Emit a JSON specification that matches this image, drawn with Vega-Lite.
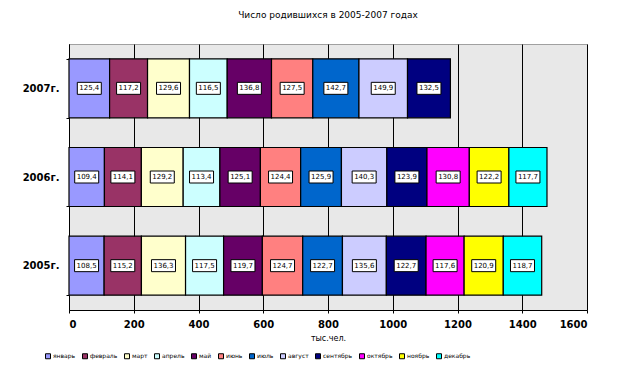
{
  "$schema": "https://vega.github.io/schema/vega-lite/v6.json",
  "width": 518,
  "height": 266,
  "autosize": {"type": "none"},
  "padding": {"left": 69, "top": 44, "right": 35, "bottom": 67},
  "background": "white",
  "title": {"text": "Число родившихся в 2005-2007 годах", "font": "DejaVu Sans", "fontSize": 9, "fontWeight": "normal", "color": "black", "offset": 19, "anchor": "middle"},
  "config": {
    "view": {"fill": "#e8e8e8", "stroke": "#a0a0a0", "strokeWidth": 1},
    "axis": {"labelFont": "DejaVu Sans", "titleFont": "DejaVu Sans", "labelColor": "black", "titleColor": "black", "domainColor": "black", "tickColor": "black"}
  },
  "data": {"values": [
    {"year": "2005г.", "month": "январь", "m": 1, "v": 108.5},
    {"year": "2005г.", "month": "февраль", "m": 2, "v": 115.2},
    {"year": "2005г.", "month": "март", "m": 3, "v": 136.3},
    {"year": "2005г.", "month": "апрель", "m": 4, "v": 117.5},
    {"year": "2005г.", "month": "май", "m": 5, "v": 119.7},
    {"year": "2005г.", "month": "июнь", "m": 6, "v": 124.7},
    {"year": "2005г.", "month": "июль", "m": 7, "v": 122.7},
    {"year": "2005г.", "month": "август", "m": 8, "v": 135.6},
    {"year": "2005г.", "month": "сентябрь", "m": 9, "v": 122.7},
    {"year": "2005г.", "month": "октябрь", "m": 10, "v": 117.6},
    {"year": "2005г.", "month": "ноябрь", "m": 11, "v": 120.9},
    {"year": "2005г.", "month": "декабрь", "m": 12, "v": 118.7},
    {"year": "2006г.", "month": "январь", "m": 1, "v": 109.4},
    {"year": "2006г.", "month": "февраль", "m": 2, "v": 114.1},
    {"year": "2006г.", "month": "март", "m": 3, "v": 129.2},
    {"year": "2006г.", "month": "апрель", "m": 4, "v": 113.4},
    {"year": "2006г.", "month": "май", "m": 5, "v": 125.1},
    {"year": "2006г.", "month": "июнь", "m": 6, "v": 124.4},
    {"year": "2006г.", "month": "июль", "m": 7, "v": 125.9},
    {"year": "2006г.", "month": "август", "m": 8, "v": 140.3},
    {"year": "2006г.", "month": "сентябрь", "m": 9, "v": 123.9},
    {"year": "2006г.", "month": "октябрь", "m": 10, "v": 130.8},
    {"year": "2006г.", "month": "ноябрь", "m": 11, "v": 122.2},
    {"year": "2006г.", "month": "декабрь", "m": 12, "v": 117.7},
    {"year": "2007г.", "month": "январь", "m": 1, "v": 125.4},
    {"year": "2007г.", "month": "февраль", "m": 2, "v": 117.2},
    {"year": "2007г.", "month": "март", "m": 3, "v": 129.6},
    {"year": "2007г.", "month": "апрель", "m": 4, "v": 116.5},
    {"year": "2007г.", "month": "май", "m": 5, "v": 136.8},
    {"year": "2007г.", "month": "июнь", "m": 6, "v": 127.5},
    {"year": "2007г.", "month": "июль", "m": 7, "v": 142.7},
    {"year": "2007г.", "month": "август", "m": 8, "v": 149.9},
    {"year": "2007г.", "month": "сентябрь", "m": 9, "v": 132.5}
  ]},
  "transform": [
    {"stack": "v", "groupby": ["year"], "sort": [{"field": "m"}], "as": ["v0", "v1"]},
    {"calculate": "(datum.v0 + datum.v1) / 2", "as": "mid"},
    {"calculate": "replace(format(datum.v, '.1f'), '.', ',')", "as": "lbl"}
  ],
  "encoding": {
    "y": {"field": "year", "type": "nominal", "sort": ["2007г.", "2006г.", "2005г."],
      "scale": {"paddingInner": 0.335, "paddingOuter": 0.1675},
      "axis": {"title": null, "labelFontSize": 10, "labelFontWeight": "bold", "tickBand": "extent", "tickSize": 3, "labelPadding": 7, "domain": true}}
  },
  "layer": [
    {
      "mark": {"type": "bar", "stroke": "black", "strokeWidth": 1.2},
      "encoding": {
        "x": {"field": "v0", "type": "quantitative", "scale": {"domain": [0, 1600], "nice": false},
          "axis": {"title": "тыс.чел.", "titleFontSize": 8, "titleFontWeight": "normal", "titlePadding": 5, "labelFontSize": 10, "labelFontWeight": "bold", "values": [0,200,400,600,800,1000,1200,1400,1600], "format": "d", "labelOverlap": false, "grid": true, "gridColor": "black", "gridWidth": 1, "gridOpacity": 1, "tickSize": 3, "labelPadding": 6}},
        "x2": {"field": "v1"},
        "color": {"field": "month", "type": "nominal",
          "sort": ["январь","февраль","март","апрель","май","июнь","июль","август","сентябрь","октябрь","ноябрь","декабрь"],
          "scale": {"domain": ["январь","февраль","март","апрель","май","июнь","июль","август","сентябрь","октябрь","ноябрь","декабрь"],
            "range": ["#9999FF","#993366","#FFFFCC","#CCFFFF","#660066","#FF8080","#0066CC","#CCCCFF","#000080","#FF00FF","#FFFF00","#00FFFF"]},
          "legend": {"orient": "none", "legendX": -24, "legendY": 309, "direction": "horizontal", "columns": 12, "title": null,
            "symbolType": "square", "symbolSize": 25, "symbolStrokeColor": "black", "symbolStrokeWidth": 1,
            "labelFont": "DejaVu Sans", "labelFontSize": 6, "labelColor": "black", "columnPadding": 4, "labelOffset": 2}}
      }
    },
    {
      "mark": {"type": "point", "shape": "M-1,-0.5H1V0.5H-1Z", "size": 576, "filled": true, "fill": "white", "stroke": "black", "strokeWidth": 1, "opacity": 1},
      "encoding": {"x": {"field": "mid", "type": "quantitative",
          "axis": {"title": "тыс.чел.", "titleFontSize": 8, "titleFontWeight": "normal", "titlePadding": 5, "labelFontSize": 10, "labelFontWeight": "bold", "values": [0,200,400,600,800,1000,1200,1400,1600], "format": "d", "labelOverlap": false, "grid": true, "gridColor": "black", "gridWidth": 1, "gridOpacity": 1, "tickSize": 3, "labelPadding": 6}}}
    },
    {
      "mark": {"type": "text", "font": "DejaVu Sans", "fontSize": 7, "color": "black", "align": "center", "baseline": "middle"},
      "encoding": {"x": {"field": "mid", "type": "quantitative",
          "axis": {"title": "тыс.чел.", "titleFontSize": 8, "titleFontWeight": "normal", "titlePadding": 5, "labelFontSize": 10, "labelFontWeight": "bold", "values": [0,200,400,600,800,1000,1200,1400,1600], "format": "d", "labelOverlap": false, "grid": true, "gridColor": "black", "gridWidth": 1, "gridOpacity": 1, "tickSize": 3, "labelPadding": 6}}, "text": {"field": "lbl"}}
    }
  ]
}
